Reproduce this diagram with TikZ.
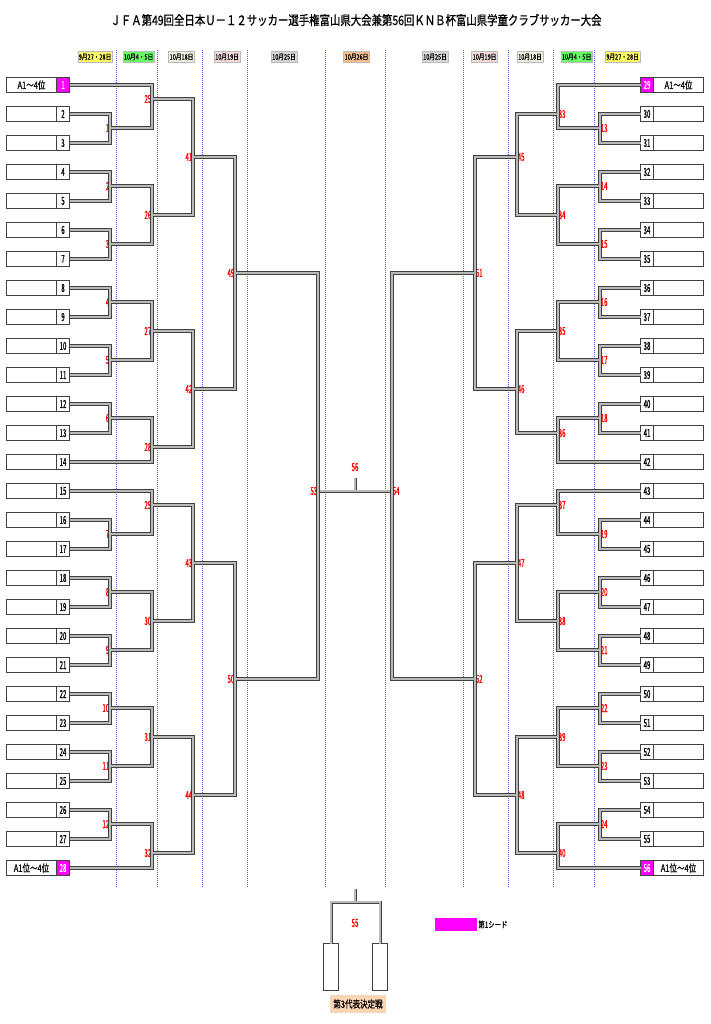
\documentclass[tikz,border=0pt]{standalone}
\usepackage{fontspec}
\usepackage{tikz}
\usetikzlibrary{positioning}
\setmainfont{Noto Sans CJK JP}
\newfontfamily\narrowfont[FakeStretch=0.55,FakeBold=0.8]{Noto Sans CJK JP}
\newfontfamily\jpfont[FakeStretch=0.75,FakeBold=0.6]{Noto Sans CJK JP}
\newfontfamily\titlefont[FakeStretch=0.8,FakeBold=1]{Noto Sans CJK JP}
\definecolor{seedpink}{RGB}{255,0,255}
\definecolor{dayyellow}{RGB}{255,255,102}
\definecolor{daygreen}{RGB}{102,255,102}
\definecolor{dayolive}{RGB}{235,241,222}
\definecolor{dayrose}{RGB}{242,220,219}
\definecolor{daygray}{RGB}{217,217,217}
\definecolor{daypeach}{RGB}{250,192,144}
\definecolor{caplight}{RGB}{252,213,180}
\definecolor{guideblue}{RGB}{90,90,255}

\begin{document}
\begin{tikzpicture}[x=1pt,y=-1pt,
    bracket/.style={draw=black!75,line width=1pt,double=gray!55,double distance=2pt}]

  \useasboundingbox (0,0) rectangle (710,1024);

  \node (title) at (356,20) {\fontsize{13}{13}\selectfont\titlefont ＪＦＡ第49回全日本Ｕ－１２サッカー選手権富山県大会兼第56回ＫＮＢ杯富山県学童クラブサッカー大会};

  % day guides
  \foreach \x in {116,157,202,247,325,385,463,508,553,594}
    \draw[guideblue,line width=0.5pt,dash pattern=on 1pt off 1pt] (\x,50) -- (\x,888);

  \begin{scope}[every node/.style={draw=gray!55,minimum height=11pt,inner sep=1pt,font=\fontsize{7.5}{7.5}\selectfont\jpfont}]
    \node[fill=dayyellow,minimum width=34pt] (d1)  at (95,57)    {9月27・28日};
    \node[fill=daygreen,minimum width=31pt]  (d2)  at (138.5,57) {10月4・5日};
    \node[fill=dayolive,minimum width=25pt]  (d3)  at (181.5,57) {10月18日};
    \node[fill=dayrose,minimum width=26pt]   (d4)  at (227,57)   {10月19日};
    \node[fill=daygray,minimum width=26pt]   (d5)  at (284,57)   {10月25日};
    \node[fill=daypeach,minimum width=26pt]  (d6)  at (356.5,57) {10月26日};
    \node[fill=daygray,minimum width=26pt]   (d7)  at (435,57)   {10月25日};
    \node[fill=dayrose,minimum width=26pt]   (d8)  at (484.5,57) {10月19日};
    \node[fill=dayolive,minimum width=25pt]  (d9)  at (530,57)   {10月18日};
    \node[fill=daygreen,minimum width=31pt]  (d10) at (576.5,57) {10月4・5日};
    \node[fill=dayyellow,minimum width=34pt] (d11) at (622.5,57) {9月27・28日};
  \end{scope}

  % teams
  \begin{scope}[every node/.style={draw=black!75,line width=1pt,minimum height=15pt,inner sep=0pt,outer sep=0pt,font=\fontsize{11}{11}\selectfont\narrowfont}]
    \node[minimum width=13pt,fill=seedpink,text=white] (t1)  at (63,85)  {1};
    \node[minimum width=13pt,fill=seedpink,text=white] (t28) at (63,868) {28};
    \node[minimum width=13pt,fill=seedpink,text=white] (t29) at (647,85)  {29};
    \node[minimum width=13pt,fill=seedpink,text=white] (t56) at (647,868) {56};
    \foreach \i in {2,...,27}
      \node[minimum width=13pt] (t\i) at (63,{56+29*\i}) {\i};
    \foreach \i in {30,...,55}
      \node[minimum width=13pt] (t\i) at (647,{56+29*(\i-28)}) {\i};
    \foreach \i in {2,...,27}
      \node[minimum width=50pt,left=0pt of t\i] (n\i) {};
    \foreach \i in {30,...,55}
      \node[minimum width=50pt,right=0pt of t\i] (n\i) {};
    \node[minimum width=50pt,left=0pt of t1,font=\fontsize{10}{10}\selectfont\jpfont]   (n1)  {A1～4位};
    \node[minimum width=50pt,left=0pt of t28,font=\fontsize{10}{10}\selectfont\jpfont]  (n28) {A1位～4位};
    \node[minimum width=50pt,right=0pt of t29,font=\fontsize{10}{10}\selectfont\jpfont] (n29) {A1～4位};
    \node[minimum width=50pt,right=0pt of t56,font=\fontsize{10}{10}\selectfont\jpfont] (n56) {A1位～4位};
  \end{scope}

  % left matches
  \begin{scope}[every node/.style={red,anchor=east,inner sep=0.6pt,font=\fontsize{11}{11}\selectfont\narrowfont}]
    \path (110,128) coordinate (m1)  node (l1)  {1};
    \path (110,186) coordinate (m2)  node (l2)  {2};
    \path (110,244) coordinate (m3)  node (l3)  {3};
    \path (110,302) coordinate (m4)  node (l4)  {4};
    \path (110,360) coordinate (m5)  node (l5)  {5};
    \path (110,418) coordinate (m6)  node (l6)  {6};
    \path (110,534) coordinate (m7)  node (l7)  {7};
    \path (110,592) coordinate (m8)  node (l8)  {8};
    \path (110,650) coordinate (m9)  node (l9)  {9};
    \path (110,708) coordinate (m10) node (l10) {10};
    \path (110,766) coordinate (m11) node (l11) {11};
    \path (110,824) coordinate (m12) node (l12) {12};
    \path (152,99)  coordinate (m25) node (l25) {25};
    \path (152,215) coordinate (m26) node (l26) {26};
    \path (152,331) coordinate (m27) node (l27) {27};
    \path (152,447) coordinate (m28) node (l28) {28};
    \path (152,505) coordinate (m29) node (l29) {29};
    \path (152,621) coordinate (m30) node (l30) {30};
    \path (152,737) coordinate (m31) node (l31) {31};
    \path (152,853) coordinate (m32) node (l32) {32};
    \path (193,157) coordinate (m41) node (l41) {41};
    \path (193,389) coordinate (m42) node (l42) {42};
    \path (193,563) coordinate (m43) node (l43) {43};
    \path (193,795) coordinate (m44) node (l44) {44};
    \path (235,273) coordinate (m49) node (l49) {49};
    \path (235,679) coordinate (m50) node (l50) {50};
    \path (318,491) coordinate (m53) node (l53) {53};
  \end{scope}

  % right matches
  \begin{scope}[every node/.style={red,anchor=west,inner sep=0.6pt,font=\fontsize{11}{11}\selectfont\narrowfont}]
    \path (600,128) coordinate (m13) node (l13) {13};
    \path (600,186) coordinate (m14) node (l14) {14};
    \path (600,244) coordinate (m15) node (l15) {15};
    \path (600,302) coordinate (m16) node (l16) {16};
    \path (600,360) coordinate (m17) node (l17) {17};
    \path (600,418) coordinate (m18) node (l18) {18};
    \path (600,534) coordinate (m19) node (l19) {19};
    \path (600,592) coordinate (m20) node (l20) {20};
    \path (600,650) coordinate (m21) node (l21) {21};
    \path (600,708) coordinate (m22) node (l22) {22};
    \path (600,766) coordinate (m23) node (l23) {23};
    \path (600,824) coordinate (m24) node (l24) {24};
    \path (558,114) coordinate (m33) node (l33) {33};
    \path (558,215) coordinate (m34) node (l34) {34};
    \path (558,331) coordinate (m35) node (l35) {35};
    \path (558,433) coordinate (m36) node (l36) {36};
    \path (558,505) coordinate (m37) node (l37) {37};
    \path (558,621) coordinate (m38) node (l38) {38};
    \path (558,737) coordinate (m39) node (l39) {39};
    \path (558,853) coordinate (m40) node (l40) {40};
    \path (517,157) coordinate (m45) node (l45) {45};
    \path (517,389) coordinate (m46) node (l46) {46};
    \path (517,563) coordinate (m47) node (l47) {47};
    \path (517,795) coordinate (m48) node (l48) {48};
    \path (475,273) coordinate (m51) node (l51) {51};
    \path (475,679) coordinate (m52) node (l52) {52};
    \path (392,491) coordinate (m54) node (l54) {54};
  \end{scope}

  % final
  \path (355,491) coordinate (m56) (355,478) coordinate (m56top);
  \node[red,font=\fontsize{11}{11}\selectfont\narrowfont] (l56) at (355,467) {56};
  \draw[bracket,line width=0.8pt,double distance=1.4pt] (m53) -- (m54) (m56) -- (m56top);

  \draw[bracket]
    (t1.east) -| (m25)   (m1) -| (m25)
    (t2.east) -| (m1)    (t3.east) -| (m1)
    (t4.east) -| (m2)    (t5.east) -| (m2)
    (t6.east) -| (m3)    (t7.east) -| (m3)
    (t8.east) -| (m4)    (t9.east) -| (m4)
    (t10.east) -| (m5)   (t11.east) -| (m5)
    (t12.east) -| (m6)   (t13.east) -| (m6)
    (t16.east) -| (m7)   (t17.east) -| (m7)
    (t18.east) -| (m8)   (t19.east) -| (m8)
    (t20.east) -| (m9)   (t21.east) -| (m9)
    (t22.east) -| (m10)  (t23.east) -| (m10)
    (t24.east) -| (m11)  (t25.east) -| (m11)
    (t26.east) -| (m12)  (t27.east) -| (m12)
    (m2) -| (m26)        (m3) -| (m26)
    (m4) -| (m27)        (m5) -| (m27)
    (m6) -| (m28)        (t14.east) -| (m28)
    (t15.east) -| (m29)  (m7) -| (m29)
    (m8) -| (m30)        (m9) -| (m30)
    (m10) -| (m31)       (m11) -| (m31)
    (m12) -| (m32)       (t28.east) -| (m32)
    (m25) -| (m41)       (m26) -| (m41)
    (m27) -| (m42)       (m28) -| (m42)
    (m29) -| (m43)       (m30) -| (m43)
    (m31) -| (m44)       (m32) -| (m44)
    (m41) -| (m49)       (m42) -| (m49)
    (m43) -| (m50)       (m44) -| (m50)
    (m49) -| (m53)       (m50) -| (m53);

  \draw[bracket]
    (t29.west) -| (m33)  (m13) -| (m33)
    (t30.west) -| (m13)  (t31.west) -| (m13)
    (t32.west) -| (m14)  (t33.west) -| (m14)
    (t34.west) -| (m15)  (t35.west) -| (m15)
    (t36.west) -| (m16)  (t37.west) -| (m16)
    (t38.west) -| (m17)  (t39.west) -| (m17)
    (t40.west) -| (m18)  (t41.west) -| (m18)
    (t44.west) -| (m19)  (t45.west) -| (m19)
    (t46.west) -| (m20)  (t47.west) -| (m20)
    (t48.west) -| (m21)  (t49.west) -| (m21)
    (t50.west) -| (m22)  (t51.west) -| (m22)
    (t52.west) -| (m23)  (t53.west) -| (m23)
    (t54.west) -| (m24)  (t55.west) -| (m24)
    (m14) -| (m34)       (m15) -| (m34)
    (m16) -| (m35)       (m17) -| (m35)
    (m18) -| (m36)       (t42.west) -| (m36)
    (t43.west) -| (m37)  (m19) -| (m37)
    (m20) -| (m38)       (m21) -| (m38)
    (m22) -| (m39)       (m23) -| (m39)
    (m24) -| (m40)       (t56.west) -| (m40)
    (m33) -| (m45)       (m34) -| (m45)
    (m35) -| (m46)       (m36) -| (m46)
    (m37) -| (m47)       (m38) -| (m47)
    (m39) -| (m48)       (m40) -| (m48)
    (m45) -| (m51)       (m46) -| (m51)
    (m47) -| (m52)       (m48) -| (m52)
    (m51) -| (m54)       (m52) -| (m54);

  % third place
  \begin{scope}[every node/.style={draw=black!75,line width=1pt,minimum width=15pt,minimum height=47pt,inner sep=0pt,outer sep=0pt}]
    \node (b1) at (331,967) {};
    \node (b2) at (380,967) {};
  \end{scope}
  \path (355,902) coordinate (m55) (355,889) coordinate (m55top);
  \node[red,font=\fontsize{11}{11}\selectfont\narrowfont] (l55) at (355,923) {55};
  \draw[bracket,line width=0.8pt,double distance=1.4pt] (b1.north) |- (m55) -| (b2.north) (m55) -- (m55top);
  \node[fill=caplight,minimum width=56pt,minimum height=18pt,inner sep=1pt,font=\fontsize{10}{10}\selectfont\jpfont] (cap) at (358,1004) {第3代表決定戦};

  % legend
  \node[fill=seedpink,minimum width=42pt,minimum height=13pt,inner sep=0pt] (key) at (456,924.5) {};
  \node[right=1pt of key,inner sep=0pt,font=\fontsize{8.5}{8.5}\selectfont\jpfont] (keytext) {第1シード};

\end{tikzpicture}
\end{document}
